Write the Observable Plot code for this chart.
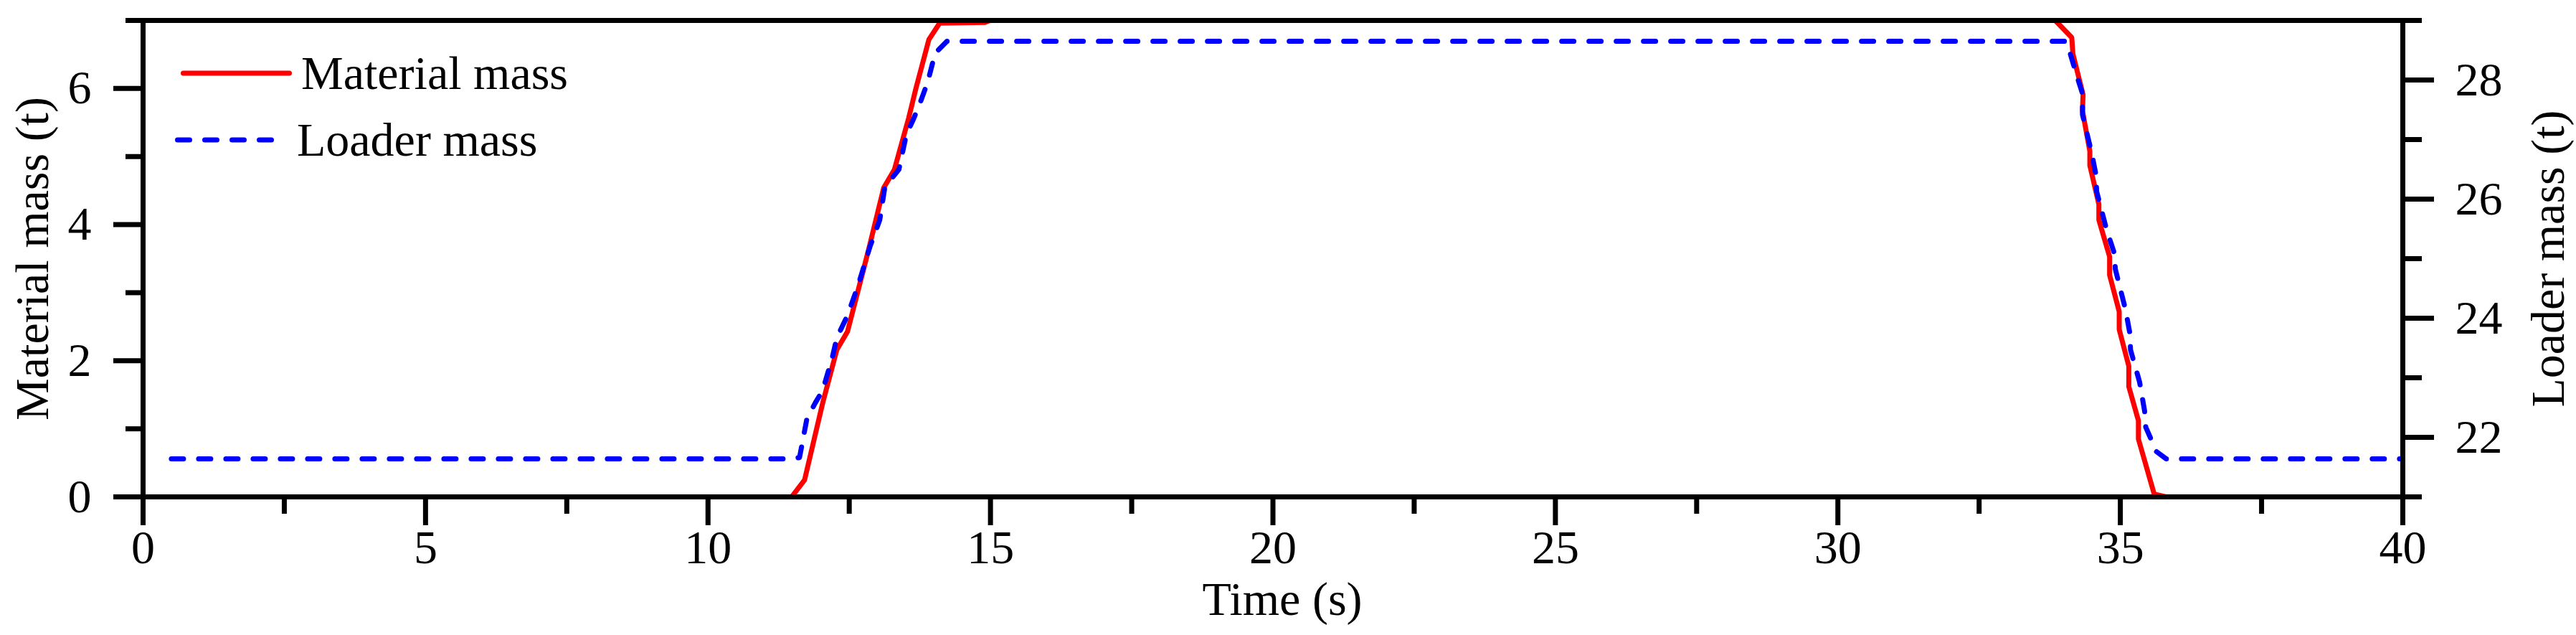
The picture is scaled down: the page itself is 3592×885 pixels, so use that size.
<!DOCTYPE html>
<html>
<head>
<meta charset="utf-8">
<script src="https://cdn.jsdelivr.net/npm/d3@7"></script>
<script src="https://cdn.jsdelivr.net/npm/@observablehq/plot@0.6"></script>
<style>
  html, body { margin: 0; padding: 0; background: #ffffff; }
  #wrap { position: relative; width: 3592px; height: 885px; overflow: hidden; }
  #wrap > svg { position: absolute; left: 0; top: 0; }
</style>
</head>
<body>
<div id="wrap"></div>
<script>
// ---- Data ----
const materialTime = [0.5, 11.48, 11.71, 12.03, 12.28, 12.47, 12.83, 13.11, 13.30, 13.55, 13.68, 13.91, 14.10, 14.90, 15.30, 33.50, 33.86, 34.14, 34.16, 34.34, 34.33, 34.46, 34.46, 34.62, 34.62, 34.81, 34.81, 34.98, 34.98, 35.15, 35.15, 35.32, 35.32, 35.60, 35.81, 40];
const materialMass = [0, 0, 0.25, 1.38, 2.16, 2.43, 3.59, 4.54, 4.81, 5.56, 6.00, 6.72, 6.96, 6.97, 7.10, 7.10, 6.99, 6.75, 6.51, 5.91, 5.67, 5.08, 4.87, 4.30, 4.07, 3.53, 3.26, 2.72, 2.46, 1.92, 1.62, 1.12, 0.85, 0.04, 0, 0];

const loaderTime = [0.5, 11.43, 11.62, 11.75, 11.90, 12.03, 12.20, 12.28, 12.47, 12.66, 12.87, 13.04, 13.13, 13.38, 13.51, 13.64, 13.76, 13.89, 14.02, 14.23, 34.03, 34.07, 34.24, 34.33, 34.33, 34.50, 34.57, 34.58, 34.75, 34.90, 34.91, 35.09, 35.17, 35.18, 35.34, 35.43, 35.45, 35.64, 35.81, 40];
const loaderMass = [21.64, 21.64, 21.66, 22.31, 22.58, 22.79, 23.34, 23.67, 24.05, 24.56, 25.21, 25.65, 26.20, 26.50, 27.08, 27.35, 27.63, 27.97, 28.45, 28.65, 28.65, 28.58, 28.04, 27.77, 27.42, 26.74, 26.40, 26.13, 25.51, 25.07, 24.83, 24.15, 23.74, 23.47, 22.93, 22.44, 22.17, 21.76, 21.64, 21.64];

const xMajorTicks = [0, 5, 10, 15, 20, 25, 30, 35, 40];
const xMinorTicks = [2.5, 7.5, 12.5, 17.5, 22.5, 27.5, 32.5, 37.5];
const leftMajorTicks = [0, 2, 4, 6];
const leftMinorTicks = [1, 3, 5, 7];
const rightMajorTicks = [22, 24, 26, 28];
const rightMinorTicks = [21, 23, 25, 27, 29];

const seriesNames = ["Material mass", "Loader mass"];
const xLabel = "Time (s)";
const leftLabel = "Material mass (t)";
const rightLabel = "Loader mass (t)";

// ---- Tables built from arrays ----
const materialData = materialTime.map((t, i) => ({t, v: materialMass[i]}));
const loaderData = loaderTime.map((t, i) => ({t, v: loaderMass[i]}));

const FONT = "'Liberation Serif', 'Times New Roman', Times, serif";
const W = 3592, H = 885;
const common = {
  width: W, height: H,
  marginLeft: 199, marginRight: 242, marginTop: 28, marginBottom: 193,
  style: {fontFamily: FONT, fontSize: "66px", color: "black", background: "transparent", overflow: "visible"}
};

const plotLeft = Plot.plot({
  ...common,
  x: {domain: [0, 40], axis: null},
  y: {domain: [0, 7], axis: null},
  marks: [
    Plot.lineY(materialData, {x: "t", y: "v", stroke: "#ff0000", strokeWidth: 7, strokeLinejoin: "miter", clip: true}),
    Plot.axisX(xMajorTicks, {anchor: "bottom", tickSize: 40, tickPadding: 6, strokeWidth: 7, fontSize: 66, tickFormat: d => String(d), label: null}),
    Plot.axisX(xMinorTicks, {anchor: "bottom", tickSize: 24, strokeWidth: 7, tickFormat: () => "", label: null}),
    Plot.axisY(leftMajorTicks, {anchor: "left", tickSize: 41, tickPadding: 31, strokeWidth: 7, fontSize: 66, tickFormat: d => String(d), label: null}),
    Plot.axisY(leftMinorTicks, {anchor: "left", tickSize: 24, strokeWidth: 7, tickFormat: () => "", label: null}),
    Plot.text([leftLabel], {frameAnchor: "left", rotate: -90, dx: -154, text: d => d, fontSize: 66, fill: "black", textAnchor: "middle", lineAnchor: "middle"}),
    Plot.text([xLabel], {frameAnchor: "bottom", dy: 143, dx: 13, text: d => d, fontSize: 66, fill: "black", textAnchor: "middle", lineAnchor: "middle"})
  ]
});

const plotRight = Plot.plot({
  ...common,
  x: {domain: [0, 40], axis: null},
  y: {domain: [21, 29], axis: null},
  marks: [
    Plot.lineY(loaderData, {x: "t", y: "v", stroke: "#0000ff", strokeWidth: 7, strokeDasharray: "17,21", strokeLinecap: "round", clip: true}),
    Plot.axisY(rightMajorTicks, {anchor: "right", tickSize: 43, tickPadding: 30, strokeWidth: 7, fontSize: 66, tickFormat: d => String(d), label: null}),
    Plot.axisY(rightMinorTicks, {anchor: "right", tickSize: 26, strokeWidth: 7, tickFormat: () => "", label: null}),
    Plot.frame({stroke: "black", strokeWidth: 7}),
    Plot.text([rightLabel], {frameAnchor: "right", rotate: -90, dx: 203, text: d => d, fontSize: 66, fill: "black", textAnchor: "middle", lineAnchor: "middle"})
  ]
});

const wrap = document.getElementById("wrap");
wrap.appendChild(plotLeft);
wrap.appendChild(plotRight);

// ---- Legend (inside the frame, top-left) ----
const ns = "http://www.w3.org/2000/svg";
const leg = document.createElementNS(ns, "svg");
leg.setAttribute("width", W);
leg.setAttribute("height", H);
leg.style.fontFamily = FONT;
const items = [
  {name: seriesNames[0], color: "#ff0000", dash: null, x1: 255.5, x2: 403.5, y: 102, tx: 420, ty: 124},
  {name: seriesNames[1], color: "#0000ff", dash: "17,21", x1: 247.5, x2: 379, y: 195, tx: 414, ty: 217}
];
for (const it of items) {
  const ln = document.createElementNS(ns, "line");
  ln.setAttribute("x1", it.x1); ln.setAttribute("x2", it.x2);
  ln.setAttribute("y1", it.y); ln.setAttribute("y2", it.y);
  ln.setAttribute("stroke", it.color);
  ln.setAttribute("stroke-width", 7);
  ln.setAttribute("stroke-linecap", "round");
  if (it.dash) ln.setAttribute("stroke-dasharray", it.dash);
  leg.appendChild(ln);
  const tx = document.createElementNS(ns, "text");
  tx.setAttribute("x", it.tx); tx.setAttribute("y", it.ty);
  tx.setAttribute("font-size", 66);
  tx.setAttribute("fill", "black");
  tx.textContent = it.name;
  leg.appendChild(tx);
}
wrap.appendChild(leg);
</script>
</body>
</html>
